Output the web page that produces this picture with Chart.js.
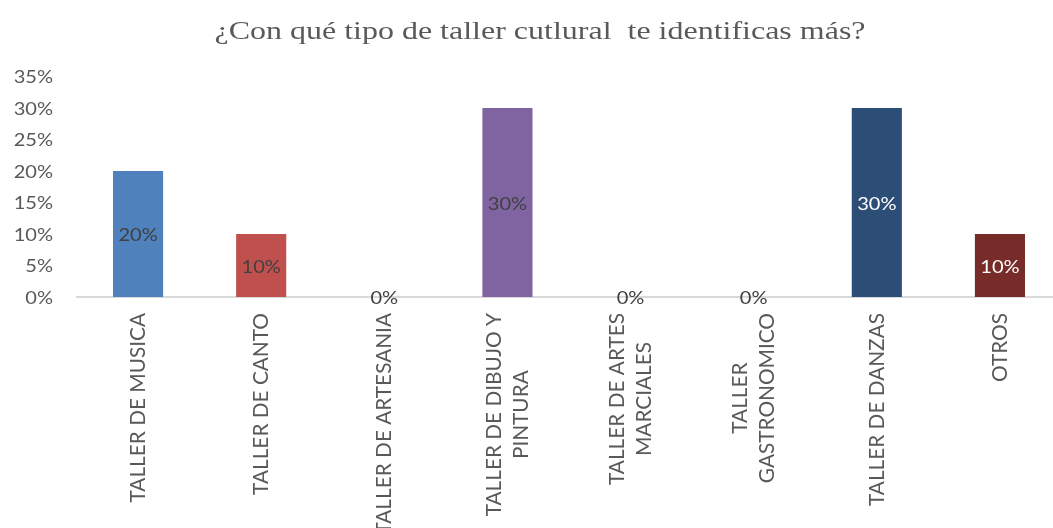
<!DOCTYPE html>
<html>
<head>
    <meta charset="utf-8">
    <title>Taller cultural</title>
    <script src="https://cdn.jsdelivr.net/npm/chart.js"></script>
    <style>
        html, body {
            margin: 0;
            padding: 0;
            background: #fff;
            overflow: hidden;
        }
        .container {
            width: 1080px;
            height: 528px;
        }
    </style>
</head>
<body>
    <div class="container">
        <canvas id="tallerChart"></canvas>
    </div>

    <script>
        const titleText = '¿Con qué tipo de taller cutlural  te identificas más?';
        const categories = [
            ['TALLER DE MUSICA'],
            ['TALLER DE CANTO'],
            ['TALLER DE ARTESANIA'],
            ['TALLER DE DIBUJO Y', 'PINTURA'],
            ['TALLER DE ARTES', 'MARCIALES'],
            ['TALLER', 'GASTRONOMICO'],
            ['TALLER DE DANZAS'],
            ['OTROS']
        ];
        const percentages = [20, 10, 0, 30, 0, 0, 30, 10];
        const yTicks = [0, 5, 10, 15, 20, 25, 30, 35];
        const barColors = ['#4F81BD', '#C0504D', '#9BBB59', '#8064A2', '#4BACC6', '#F79646', '#2C4D75', '#772C2A'];
        const valueLabelColors = ['#404040', '#404040', '#404040', '#404040', '#404040', '#404040', '#FFFFFF', '#FFFFFF'];

        const textGrey = '#595959';
        const numberFont = '17px Lato';
        const categoryFont = '20.8px Lato';
        const titleFont = '25.2px "Liberation Serif", serif';
        const numberStretch = 1.18;
        const titleStretch = 1.27;

        // horizontal text drawn a little wider than the font's own proportions
        function wideText(ctx, text, x, y, sx) {
            ctx.save();
            ctx.translate(x, y);
            ctx.scale(sx, 1);
            ctx.fillText(text, 0, 0);
            ctx.restore();
        }

        const titleAndTicks = {
            id: 'titleAndTicks',
            afterDraw(chart) {
                const ctx = chart.ctx;
                const yScale = chart.scales.y;
                ctx.save();
                ctx.fillStyle = textGrey;

                ctx.font = titleFont;
                ctx.textAlign = 'center';
                ctx.textBaseline = 'alphabetic';
                wideText(ctx, titleText, 540, 39, titleStretch);

                ctx.font = numberFont;
                ctx.textAlign = 'right';
                ctx.textBaseline = 'middle';
                yTicks.forEach(v => {
                    wideText(ctx, v + '%', 53, yScale.getPixelForValue(v) + 1.5, numberStretch);
                });
                ctx.restore();
            }
        };

        // value labels in the middle of each bar
        const barValues = {
            id: 'barValues',
            afterDatasetsDraw(chart) {
                const ctx = chart.ctx;
                const meta = chart.getDatasetMeta(0);
                ctx.save();
                ctx.font = numberFont;
                ctx.textAlign = 'center';
                ctx.textBaseline = 'middle';
                meta.data.forEach((bar, i) => {
                    const y = (bar.y + bar.base) / 2 + 2;
                    ctx.fillStyle = valueLabelColors[i];
                    wideText(ctx, percentages[i] + '%', bar.x, y, numberStretch);
                });
                ctx.restore();
            }
        };

        // vertical category labels, lines centred on each other
        const categoryLabels = {
            id: 'categoryLabels',
            afterDraw(chart) {
                const ctx = chart.ctx;
                const xScale = chart.scales.x;
                const top = chart.chartArea.bottom + 16;
                const lineGap = 27;
                ctx.save();
                ctx.font = categoryFont;
                ctx.fillStyle = textGrey;
                ctx.textAlign = 'center';
                ctx.textBaseline = 'middle';
                categories.forEach((lines, i) => {
                    const x = xScale.getPixelForTick(i);
                    const longest = Math.max(...lines.map(l => ctx.measureText(l).width));
                    const cy = top + longest / 2;
                    lines.forEach((line, j) => {
                        const lx = x + (j - (lines.length - 1) / 2) * lineGap;
                        ctx.save();
                        ctx.translate(lx, cy);
                        ctx.rotate(-Math.PI / 2);
                        ctx.fillText(line, 0, 0);
                        ctx.restore();
                    });
                });
                ctx.restore();
            }
        };

        const ctx = document.getElementById('tallerChart').getContext('2d');
        new Chart(ctx, {
            type: 'bar',
            data: {
                labels: categories.map(c => c.join(' ')),
                datasets: [{
                    data: percentages,
                    backgroundColor: barColors,
                    categoryPercentage: 1,
                    barPercentage: 0.407
                }]
            },
            plugins: [barValues, categoryLabels, titleAndTicks],
            options: {
                responsive: true,
                maintainAspectRatio: false,
                animation: false,
                layout: {
                    padding: { top: 76.5, right: 18.5, bottom: 0, left: 0 }
                },
                plugins: {
                    legend: { display: false },
                    tooltip: { enabled: false },
                    title: { display: false }
                },
                scales: {
                    x: {
                        grid: { display: false },
                        border: { color: '#D9D9D9', width: 2 },
                        ticks: { display: false },
                        afterFit(scale) { scale.height = 231; }
                    },
                    y: {
                        min: 0,
                        max: 35,
                        grid: { display: false, drawTicks: false },
                        border: { display: false },
                        ticks: { display: false, stepSize: 5 },
                        afterFit(scale) { scale.width = 76.5; }
                    }
                }
            }
        });
    </script>
</body>
</html>
